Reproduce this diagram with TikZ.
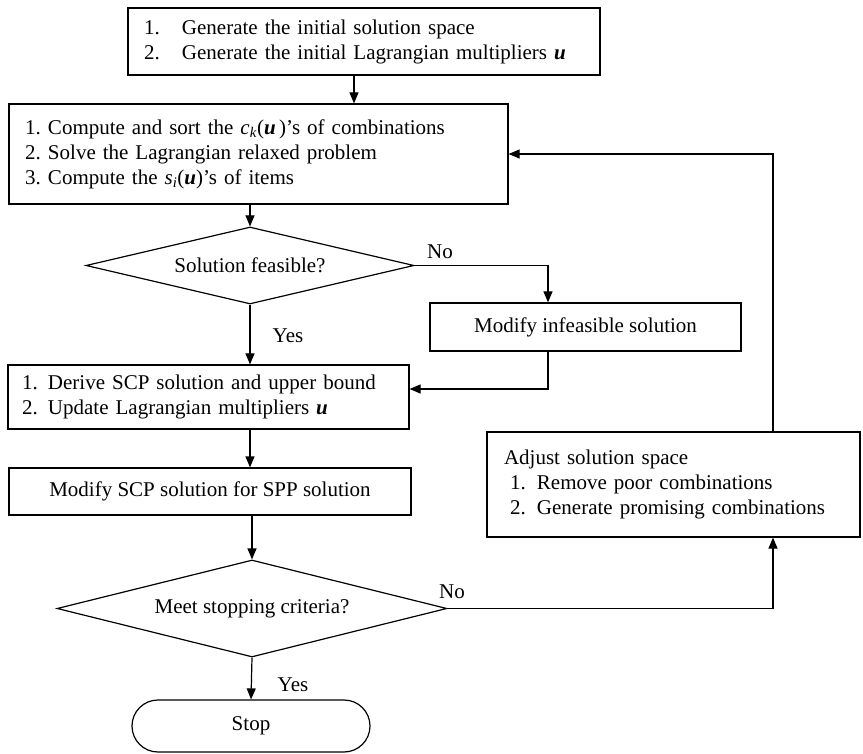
\documentclass[tikz,border=0pt]{standalone}
\usepackage{fontspec}
\setmainfont{Liberation Serif}
\usetikzlibrary{shapes.geometric,shapes.misc,arrows.meta,positioning}

\newcommand{\bu}{\textbf{\textit{u}}}
\newcommand{\itemno}[2]{\makebox[#1][l]{#2}}

\begin{document}
\begin{tikzpicture}[x=1pt,y=-1pt,line width=1.2pt,
    every node/.style={font=\fontsize{21}{25}\selectfont},
    box node/.style={draw,rectangle,inner ysep=0pt,align=left},
    mid node/.style={draw,rectangle,inner sep=0pt,align=center},
    dec node/.style={draw,diamond,aspect=4,inner sep=0pt},
    end node/.style={draw,rounded rectangle,inner sep=0pt},
    lab node/.style={inner sep=0pt},
    arr/.style={-{Triangle[length=11pt,width=9pt]}}]

\useasboundingbox (0,0) rectangle (863,754);

%Main column of steps
\node[box node,inner xsep=16pt,text width=440pt,minimum height=67pt] (init) at (364,41.5)
   {\itemno{38pt}{1.}Generate the initial solution space\\
    \itemno{38pt}{2.}Generate the initial Lagrangian multipliers \bu};

\node[box node,inner xsep=16pt,text width=467pt,minimum height=100pt] (lagr) at (258.5,154)
   {\itemno{23pt}{1.}Compute and sort the \textit{c}\textsubscript{\textit{k}}(\bu\,)'s of combinations\\
    \itemno{23pt}{2.}Solve the Lagrangian relaxed problem\\
    \itemno{23pt}{3.}Compute the \textit{s}\textsubscript{\textit{i}}(\bu)'s of items};

\node[dec node,minimum width=328pt,minimum height=77pt] (feas) at (250,265.5) {Solution feasible?};

\node[mid node,minimum width=311pt,minimum height=48pt] (modinf) at (585.5,327) {Modify infeasible solution};

\node[box node,inner xsep=14pt,text width=373pt,minimum height=64pt] (derive) at (208.5,397)
   {\itemno{26pt}{1.}Derive SCP solution and upper bound\\
    \itemno{26pt}{2.}Update Lagrangian multipliers \bu};

\node[mid node,minimum width=402pt,minimum height=47pt] (modscp) at (210,491.5) {Modify SCP solution for SPP solution};

\node[dec node,minimum width=390pt,minimum height=97pt] (stopcrit) at (252,608.5) {Meet stopping criteria?};

\node[end node,minimum width=238pt,minimum height=52pt] (stop) at (251,726) {Stop};

%Side box
\node[box node,inner xsep=17pt,text width=339pt,minimum height=105pt] (adjust) at (673.5,484.5)
   {Adjust solution space\\
    \hspace*{6pt}\itemno{27pt}{1.}Remove poor combinations\\
    \hspace*{6pt}\itemno{27pt}{2.}Generate promising combinations};

%Branch labels
\node[lab node] (no1)  at (440,252) {No};
\node[lab node] (yes1) at (288,336) {Yes};
\node[lab node] (no2)  at (452,592) {No};
\node[lab node] (yes2) at (293,685) {Yes};

%Bend points
\coordinate (nobend) at (548,0);
\coordinate (loop) at (773,0);

%Connectors
\draw[arr] ([xshift=-10pt]init.south) -- ([xshift=-10pt]init.south |- lagr.north);
\draw[arr] (feas.north |- lagr.south) -- (feas.north);
\draw[arr] (feas.south) -- (feas.south |- derive.north);
\draw[arr] (feas.east) -| (nobend |- modinf.north);
\draw[arr] (nobend |- modinf.south) |- ([yshift=8pt]derive.east);
\draw[arr] (feas.south |- derive.south) -- (feas.south |- modscp.north);
\draw[arr] (stopcrit.north |- modscp.south) -- (stopcrit.north);
\draw[arr] (stopcrit.south) -- (stop.north);
\draw[arr] (stopcrit.east) -| (loop |- adjust.south);
\draw[arr] (loop |- adjust.north) |- (lagr.east);

\end{tikzpicture}
\end{document}
